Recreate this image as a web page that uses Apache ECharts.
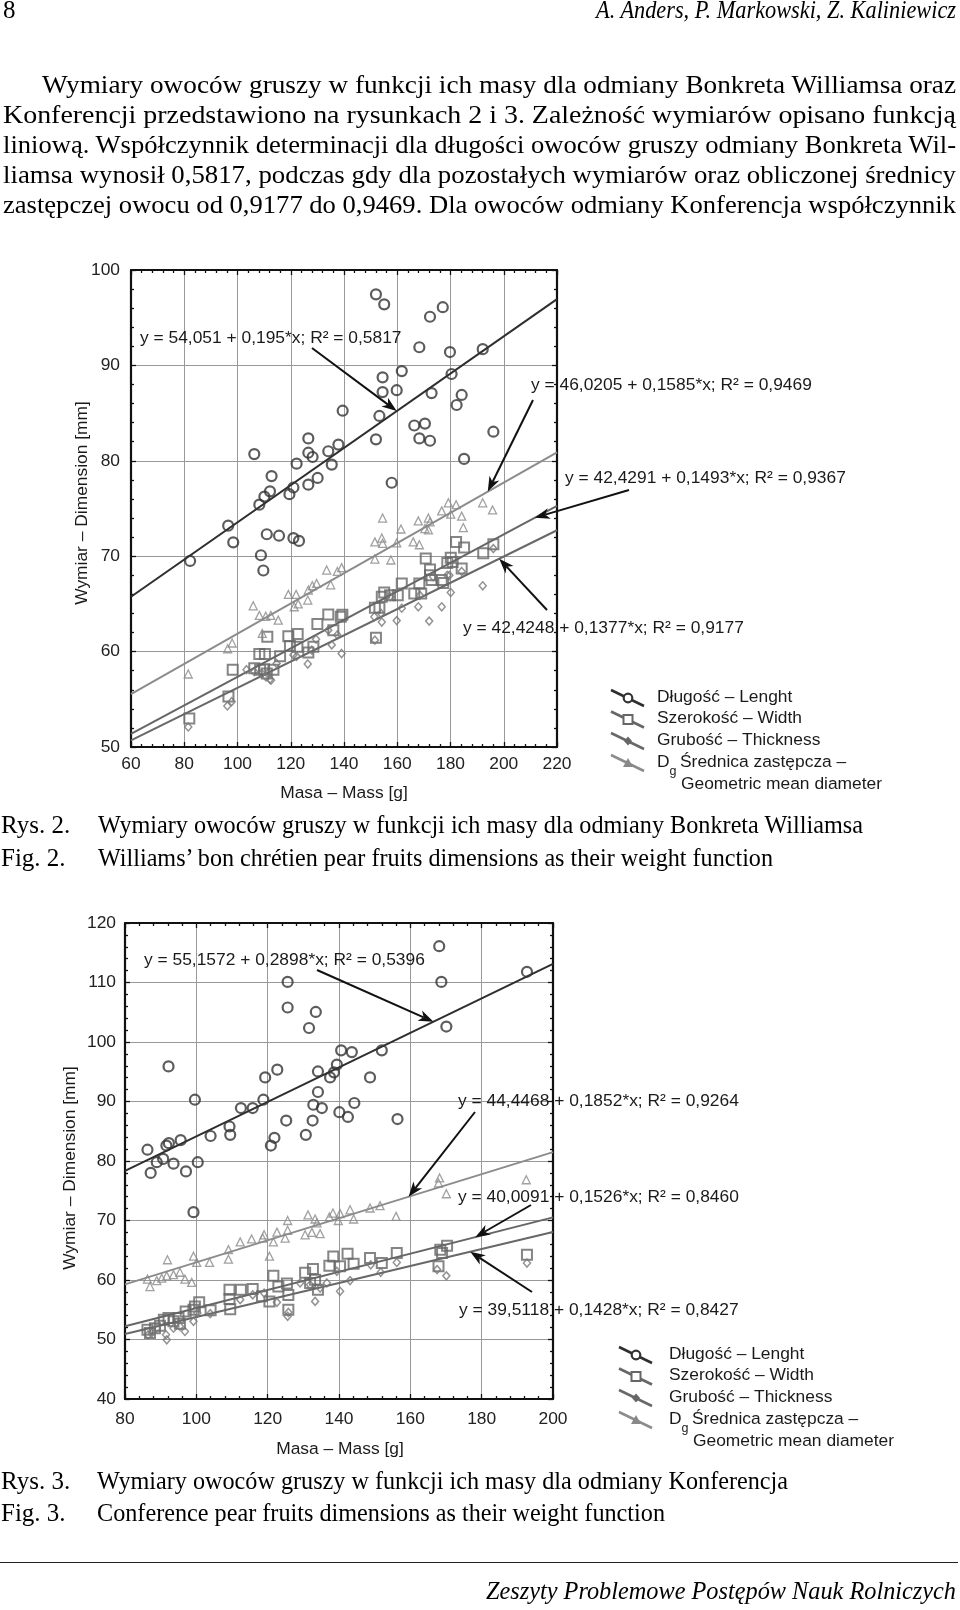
<!DOCTYPE html>
<html><head><meta charset="utf-8">
<script src="https://cdn.jsdelivr.net/npm/echarts/dist/echarts.min.js"></script>
<style>
html,body{margin:0;padding:0;background:#fff;}
body{width:960px;height:1610px;position:relative;overflow:hidden;}
#chart{position:absolute;left:0;top:0;width:960px;height:1610px;}
.t{position:absolute;white-space:nowrap;font-family:"Liberation Serif","Times New Roman",serif;font-size:25px;line-height:30px;color:#000;transform-origin:0 0;}
.i{font-style:italic;}
#rule{position:absolute;left:0;top:1562px;width:958px;height:0;border-top:1.5px solid #222;}
</style></head><body>
<div id="chart"></div>
<div id="rule"></div>
<script>
// ---------------- DATA ----------------
// Fig. 2 — Bonkreta Williamsa: [mass g, dimension mm]
const B_len = [[152.0,97.45],[155.1,96.4],[172.3,95.1],[177.1,96.1],[168.3,91.9],[179.8,91.4],[192.1,91.7],[161.7,89.4],[154.5,88.75],[180.4,89.1],[154.5,87.2],[159.8,87.4],[172.9,87.1],[184.2,86.9],[182.3,85.85],[139.5,85.25],[153.3,84.7],[166.4,83.7],[170.4,83.9],[168.3,82.35],[172.3,82.1],[196.1,83.05],[152.0,82.25],[185.1,80.2],[106.3,80.7],[126.6,82.35],[137.9,81.7],[134.1,81.0],[126.6,80.85],[128.2,80.4],[122.2,79.7],[135.4,79.6],[112.8,78.4],[130.1,78.2],[126.6,77.5],[157.9,77.7],[121.0,77.2],[119.5,76.5],[112.2,76.8],[110.1,76.25],[108.2,75.4],[96.5,73.2],[98.4,71.45],[82.2,69.5],[111.0,72.3],[115.6,72.15],[121.0,71.9],[123.1,71.6],[108.8,70.1],[109.7,68.5]];
const B_wid = [[81.9,53.0],[96.6,55.3],[98.2,58.1],[108.2,59.75],[110.3,59.75],[111.2,61.55],[106.3,58.25],[108.5,58.1],[110.0,58.15],[113.5,58.1],[111.0,57.7],[116.0,59.5],[119.1,61.6],[122.6,61.85],[122.5,60.5],[119.7,60.6],[126.6,59.9],[128.5,60.5],[130.0,62.9],[134.1,63.9],[136.0,62.25],[139.4,63.85],[138.8,63.65],[152.0,61.45],[151.6,64.6],[153.3,64.6],[155.1,66.2],[154.2,65.75],[157.3,65.9],[160.2,65.9],[161.7,67.15],[166.4,66.1],[168.3,67.15],[169.0,66.1],[170.7,69.75],[172.3,68.6],[172.9,67.5],[172.3,68.0],[177.3,67.2],[180.1,69.85],[180.8,69.4],[182.1,71.5],[185.1,70.9],[184.2,68.7],[192.3,70.3],[196.1,71.25],[178.8,69.3],[176.7,67.5]];
const B_thk = [[81.5,52.1],[96.2,54.3],[97.8,54.75],[103.4,58.1],[106.3,57.9],[109.1,57.7],[110.7,57.35],[112.2,57.1],[112.6,57.0],[114.7,58.75],[111.3,57.7],[121.0,59.65],[122.2,59.5],[126.4,58.7],[127.9,60.15],[129.5,61.3],[134.1,62.25],[135.4,60.7],[137.5,61.75],[139.1,59.8],[151.6,61.2],[151.4,63.65],[154.2,63.1],[153.9,64.0],[159.8,63.25],[161.7,64.55],[167.9,64.7],[172.0,63.2],[176.7,64.7],[180.1,66.2],[179.6,68.0],[184.2,68.4],[192.1,66.9],[196.1,70.8],[157.3,65.75],[168.5,65.9],[173.5,67.85],[178.8,68.0]];
const B_dg = [[105.9,64.8],[108.2,63.8],[110.6,63.7],[112.5,63.8],[115.3,63.3],[109.3,61.9],[96.3,60.3],[98.0,60.9],[81.5,57.65],[119.1,66.0],[122.0,66.0],[121.3,64.7],[122.8,65.0],[126.4,65.4],[126.6,66.45],[128.1,66.9],[129.7,67.15],[133.5,68.55],[135.0,67.0],[137.5,68.4],[139.1,68.8],[151.6,71.5],[154.5,74.0],[154.2,71.9],[154.5,71.35],[151.6,69.7],[157.6,69.6],[159.8,71.4],[161.4,72.85],[166.0,71.5],[168.3,71.2],[167.9,73.7],[171.7,74.0],[172.3,73.6],[170.4,72.9],[171.7,72.75],[176.7,74.75],[179.2,75.6],[180.1,74.4],[182.1,75.4],[184.2,74.2],[184.8,73.0],[192.1,75.6],[195.8,74.85]];
// regression coefficients [a, b]: length, width, thickness, Dg
const B_coef = [[54.051,0.195],[42.4291,0.1493],[42.4248,0.1377],[46.0205,0.1585]];
const B_eq = ['y = 54,051 + 0,195*x; R² = 0,5817','y = 42,4291 + 0,1493*x; R² = 0,9367','y = 42,4248 + 0,1377*x; R² = 0,9177','y = 46,0205 + 0,1585*x; R² = 0,9469'];

// Fig. 3 — Konferencja
const K_len = [[168.1,116.1],[168.7,110.1],[170.1,102.6],[192.7,111.8],[125.6,110.1],[125.6,105.8],[133.5,105.05],[131.6,102.35],[92.2,95.9],[99.6,90.3],[112.5,88.9],[115.8,88.9],[118.8,90.3],[119.3,94.05],[122.7,95.35],[125.2,86.8],[132.8,89.45],[135.2,88.9],[134.1,91.6],[134.1,95.05],[132.6,86.8],[137.5,94.05],[138.6,94.9],[139.4,96.2],[140.6,98.6],[143.6,98.3],[152.0,98.6],[148.7,94.05],[144.3,89.75],[140.1,88.2],[142.5,87.4],[156.4,87.05],[109.3,85.8],[109.5,84.4],[104.0,84.2],[121.9,83.9],[120.9,82.6],[130.7,84.4],[95.6,83.5],[92.3,83.0],[91.6,82.6],[86.3,81.9],[87.2,78.0],[88.9,79.8],[90.7,80.35],[93.6,79.55],[97.1,78.25],[99.2,71.4],[100.4,79.8]];
const K_wid = [[86.3,51.65],[87.0,51.1],[88.4,51.9],[89.8,52.3],[90.9,53.3],[92.2,53.6],[93.6,53.05],[95.0,53.6],[95.4,52.65],[97.0,54.7],[99.2,55.0],[100.8,56.25],[99.6,55.55],[104.0,54.9],[109.3,56.8],[109.5,55.1],[112.5,58.35],[109.3,58.35],[115.8,58.5],[118.4,57.25],[120.5,56.4],[121.6,60.7],[123.0,58.9],[125.4,59.4],[125.8,57.5],[125.8,55.0],[130.5,61.2],[132.7,61.85],[133.3,60.05],[134.1,58.35],[137.3,62.4],[138.4,63.95],[140.3,62.3],[142.4,64.4],[144.1,62.75],[148.7,63.7],[152.0,62.85],[156.2,64.55],[167.9,62.3],[168.4,65.1],[170.3,65.75],[192.7,64.25],[131.9,59.5],[168.9,64.55]];
const K_thk = [[86.5,50.8],[87.5,51.1],[88.9,51.9],[91.7,49.95],[91.5,50.8],[93.6,51.9],[95.4,52.2],[96.8,51.35],[99.2,53.05],[100.3,54.45],[103.9,54.35],[112.3,56.7],[115.8,57.5],[119.0,57.8],[122.6,56.25],[125.6,53.9],[125.8,54.55],[133.3,56.4],[131.9,59.2],[136.6,59.5],[140.3,58.1],[143.1,59.9],[148.9,62.55],[151.7,61.3],[156.2,62.95],[167.5,61.75],[170.1,60.7],[192.7,62.85],[134.7,58.65],[129.1,59.5],[139.4,61.45]];
const K_dg = [[86.3,60.15],[87.0,58.9],[88.9,59.9],[90.3,60.3],[91.7,60.7],[91.9,63.4],[93.6,60.9],[95.4,61.3],[96.8,60.15],[98.7,59.6],[99.2,64.0],[100.1,62.95],[103.7,62.95],[109.0,65.1],[109.0,63.5],[112.3,66.4],[115.5,66.9],[118.6,67.05],[119.0,67.6],[120.5,64.0],[121.6,66.4],[122.6,68.05],[124.9,67.05],[125.6,68.35],[125.6,70.0],[130.5,67.6],[131.3,70.95],[132.4,68.0],[133.3,70.25],[133.8,69.6],[134.7,67.8],[137.3,70.6],[138.3,71.25],[139.8,70.0],[140.3,71.15],[143.1,71.8],[144.1,70.25],[148.7,72.1],[151.5,72.5],[156.0,70.7],[168.2,77.15],[167.9,76.3],[170.1,74.5],[192.5,76.85]];
const K_coef = [[55.1572,0.2898],[40.0091,0.1526],[39.5118,0.1428],[44.4468,0.1852]];
const K_eq = ['y = 55,1572 + 0,2898*x; R² = 0,5396','y = 40,0091 + 0,1526*x; R² = 0,8460','y = 39,5118 + 0,1428*x; R² = 0,8427','y = 44,4468 + 0,1852*x; R² = 0,9264'];

// axis ranges / tick labels
const B_x = {min:60,max:220,interval:20};
const B_y = {min:50,max:100,interval:10};
const K_x = {min:80,max:200,interval:20};
const K_y = {min:40,max:120,interval:10};

const LEGEND = ['Długość – Lenght','Szerokość – Width','Grubość – Thickness','Średnica zastępcza –','Geometric mean diameter'];
const AX_X = 'Masa – Mass [g]';
const AX_Y = 'Wymiar – Dimension [mm]';

// ---------------- STYLE ----------------
const FONT = '"Liberation Sans", Arial, sans-serif';
const FS = 17.4;
const SER = [ // length, width, thickness, Dg
  {symbol:'circle',size:10,border:'#333',bw:2.2,line:'#2e2e2e'},
  {symbol:'rect',size:10,border:'#666',bw:2,line:'#666'},
  {symbol:'diamond',size:[7,8],border:'#777',bw:1.5,line:'#686868'},
  {symbol:'triangle',size:8,border:'#8a8a8a',bw:1.3,line:'#8c8c8c'}
];

function axesFor(gi, X, Y, xm, ym){
  const tick = {show:true,inside:true,length:5,lineStyle:{color:'#111',width:1.3}};
  const minor = {show:true,splitNumber:5,length:3,lineStyle:{color:'#111',width:1.3}};
  const line = {show:true,onZero:false,lineStyle:{color:'#111',width:2.2}};
  const lab = {fontSize:FS,color:'#222',fontFamily:FONT};
  const xs = [
    Object.assign({type:'value',gridIndex:gi,position:'bottom',axisLine:line,axisTick:tick,minorTick:minor,
      splitLine:{show:true,lineStyle:{color:'#999',width:1}},axisLabel:Object.assign({margin:xm},lab)},X),
    Object.assign({type:'value',gridIndex:gi,position:'top',axisLine:line,axisTick:tick,minorTick:minor,
      splitLine:{show:false},axisLabel:{show:false}},X)
  ];
  const ys = [
    Object.assign({type:'value',gridIndex:gi,position:'left',axisLine:line,axisTick:tick,minorTick:minor,
      splitLine:{show:true,lineStyle:{color:'#999',width:1}},axisLabel:Object.assign({margin:ym},lab)},Y),
    Object.assign({type:'value',gridIndex:gi,position:'right',axisLine:line,axisTick:tick,minorTick:minor,
      splitLine:{show:false},axisLabel:{show:false}},Y)
  ];
  return {xs, ys};
}

function seriesFor(gi, sets, coef, X){
  const out = [];
  coef.forEach((c,k)=>{
    out.push({type:'line',xAxisIndex:gi*2,yAxisIndex:gi*2,data:[[X.min,c[0]+c[1]*X.min],[X.max,c[0]+c[1]*X.max]],
      showSymbol:false,symbol:'none',lineStyle:{color:SER[k].line,width:2},silent:true,z:2});
  });
  sets.forEach((d,k)=>{
    const s = SER[k];
    out.push({type:'scatter',xAxisIndex:gi*2,yAxisIndex:gi*2,data:d,symbol:s.symbol,symbolSize:s.size,
      itemStyle:{color:'rgba(255,255,255,0)',borderColor:s.border,borderWidth:s.bw},silent:true,z:3});
  });
  return out;
}

const a1 = axesFor(0,B_x,B_y,9,11);
const a2 = axesFor(1,K_x,K_y,12,9);
const chart = echarts.init(document.getElementById('chart'),null,{renderer:'canvas'});
const option = {
  animation:false,
  backgroundColor:'#fff',
  grid:[{left:131,top:270,width:426,height:477},{left:125,top:923,width:428,height:476}],
  xAxis:[...a1.xs,...a2.xs],
  yAxis:[...a1.ys,...a2.ys],
  series:[...seriesFor(0,[B_len,B_wid,B_thk,B_dg],B_coef,B_x),...seriesFor(1,[K_len,K_wid,K_thk,K_dg],K_coef,K_x)]
};
chart.setOption(option);

// ---------------- ANNOTATIONS ----------------
// per chart: text [left, centerY], arrow tail [px], arrow tip mass (y from regression)
const B_ann = [
  {text:[140,338],tail:[312,348],tipX:159.8},
  {text:[565,478],tail:[629,490],tipX:211.7},
  {text:[463,628],tail:[547,610],tipX:198.3},
  {text:[531,385],tail:[533,400],tipX:194.0}
];
const K_ann = [
  {text:[144,960],tail:[317,970],tipX:166.5},
  {text:[458,1197],tail:[531,1205],tipX:178.2},
  {text:[459,1310],tail:[532,1292],tipX:176.8},
  {text:[458,1101],tail:[475,1112],tipX:159.5}
];
function arrow(tail,tip){
  const dx=tip[0]-tail[0],dy=tip[1]-tail[1],len=Math.hypot(dx,dy),ux=dx/len,uy=dy/len,nx=-uy,ny=ux;
  const L=15,W=5.5;
  const back=[tip[0]-ux*L,tip[1]-uy*L], notch=[tip[0]-ux*L*0.72,tip[1]-uy*L*0.72];
  return [
    {type:'line',z:50,shape:{x1:tail[0],y1:tail[1],x2:notch[0],y2:notch[1]},style:{stroke:'#111',lineWidth:2}},
    {type:'polygon',z:50,shape:{points:[tip,[back[0]+nx*W,back[1]+ny*W],notch,[back[0]-nx*W,back[1]-ny*W]]},style:{fill:'#111'}}
  ];
}
function txt(x,y,t,extra){
  return Object.assign({type:'text',z:60,x:x,y:y,style:{text:t,fill:'#1a1a1a',fontSize:FS,fontFamily:FONT,align:'left',verticalAlign:'middle'}},extra||{});
}
const G = [];
function annotate(gi,ann,eq,coef){
  ann.forEach((a,k)=>{
    const c=coef[k];
    const tip = chart.convertToPixel({gridIndex:gi},[a.tipX,c[0]+c[1]*a.tipX]);
    G.push(...arrow(a.tail,tip));
    G.push(txt(a.text[0],a.text[1],eq[k]));
  });
}
annotate(0,B_ann,B_eq,B_coef);
annotate(1,K_ann,K_eq,K_coef);

// axis titles
G.push(txt(344,793,AX_X,{style:{text:AX_X,fill:'#1a1a1a',fontSize:FS,fontFamily:FONT,align:'center',verticalAlign:'middle'}}));
G.push(txt(340,1449,AX_X,{style:{text:AX_X,fill:'#1a1a1a',fontSize:FS,fontFamily:FONT,align:'center',verticalAlign:'middle'}}));
G.push({type:'text',z:60,x:82,y:503,rotation:Math.PI/2,style:{text:AX_Y,fill:'#1a1a1a',fontSize:FS,fontFamily:FONT,align:'center',verticalAlign:'middle'}});
G.push({type:'text',z:60,x:70,y:1168,rotation:Math.PI/2,style:{text:AX_Y,fill:'#1a1a1a',fontSize:FS,fontFamily:FONT,align:'center',verticalAlign:'middle'}});

// legends
function legend(tx,ty,cx){
  const rows=[0,21.5,43,65];
  rows.forEach((dy,k)=>{
    const y=ty+dy+1, s=SER[k];
    G.push({type:'line',z:60,shape:{x1:cx-17,y1:y-8,x2:cx+16,y2:y+8},style:{stroke:s.line,lineWidth:2.6}});
    if(k===0) G.push({type:'circle',z:61,shape:{cx:cx,cy:y,r:4.3},style:{fill:'#fff',stroke:'#333',lineWidth:2.2}});
    if(k===1) G.push({type:'rect',z:61,shape:{x:cx-4.5,y:y-4.5,width:9,height:9},style:{fill:'#fff',stroke:'#666',lineWidth:2}});
    if(k===2) G.push({type:'polygon',z:61,shape:{points:[[cx,y-4.5],[cx+4,y],[cx,y+4.5],[cx-4,y]]},style:{fill:'#666'}});
    if(k===3) G.push({type:'polygon',z:61,shape:{points:[[cx,y-5],[cx+5,y+4],[cx-5,y+4]]},style:{fill:'#888'}});
  });
  G.push(txt(tx,ty,LEGEND[0]));
  G.push(txt(tx,ty+21.5,LEGEND[1]));
  G.push(txt(tx,ty+43,LEGEND[2]));
  G.push(txt(tx,ty+65,'D'));
  G.push(txt(tx+12.5,ty+75,'g',{style:{text:'g',fill:'#1a1a1a',fontSize:12.5,fontFamily:FONT,align:'left',verticalAlign:'middle'}}));
  G.push(txt(tx+23,ty+65,LEGEND[3]));
  G.push(txt(tx+24,ty+87,LEGEND[4]));
}
legend(657,697,628);
legend(669,1354,636);

chart.setOption({graphic:{elements:G}});

// ---------------- PAGE TEXT ----------------
const PAGE = [
  // [text, left, top, targetWidth, class]
  ['8',3,-5,0,''],
  ['A. Anders, P. Markowski, Z. Kaliniewicz',596,-5,360,'i'],
  ['Wymiary owoców gruszy w funkcji ich masy dla odmiany Bonkreta Williamsa oraz',42,70,914,''],
  ['Konferencji przedstawiono na rysunkach 2 i 3. Zależność wymiarów opisano funkcją',3,100,953,''],
  ['liniową. Współczynnik determinacji dla długości owoców gruszy odmiany Bonkreta Wil-',3,130,953,''],
  ['liamsa wynosił 0,5817, podczas gdy dla pozostałych wymiarów oraz obliczonej średnicy',3,160,953,''],
  ['zastępczej owocu od 0,9177 do 0,9469. Dla owoców odmiany Konferencja współczynnik',3,190,953,''],
  ['Rys. 2.',1,810,0,''],
  ['Wymiary owoców gruszy w funkcji ich masy dla odmiany Bonkreta Williamsa',98,810,765,''],
  ['Fig. 2.',1,843,0,''],
  ['Williams’ bon chrétien pear fruits dimensions as their weight function',98,843,675,''],
  ['Rys. 3.',1,1466,0,''],
  ['Wymiary owoców gruszy w funkcji ich masy dla odmiany Konferencja',97,1466,691,''],
  ['Fig. 3.',1,1498,0,''],
  ['Conference pear fruits dimensions as their weight function',97,1498,568,''],
  ['Zeszyty Problemowe Postępów Nauk Rolniczych',486,1576,470,'i']
];
PAGE.forEach(p=>{
  const d=document.createElement('div');
  d.className='t '+p[4];
  d.textContent=p[0];
  d.style.left=p[1]+'px'; d.style.top=p[2]+'px';
  document.body.appendChild(d);
  if(p[3]>0){
    const w=d.getBoundingClientRect().width;
    d.style.transform='scaleX('+(p[3]/w)+')';
  }
});
</script>
</body></html>
